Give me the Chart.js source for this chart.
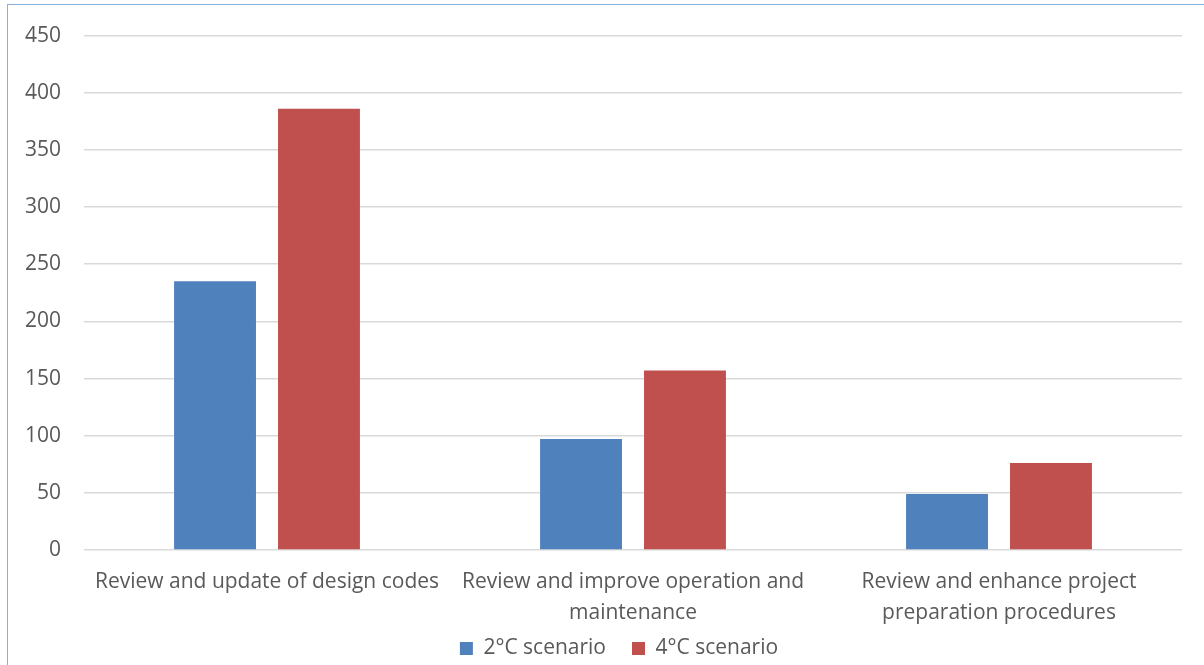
<!DOCTYPE html>
<html>
<head>
<meta charset="utf-8">
<script src="https://cdn.jsdelivr.net/npm/chart.js@4.4.1/dist/chart.umd.min.js"></script>
<style>
  html, body { margin: 0; padding: 0; background: #ffffff; }
  #wrap { position: relative; width: 1204px; height: 665px; overflow: hidden; }
  #frame { position: absolute; left: 7px; top: 4px; width: 1300px; height: 800px;
           border-top: 1.5px solid #86B0DF; border-left: 1.5px solid #86B0DF; pointer-events: none; }
  canvas { position: absolute; left: 0; top: 0; }
</style>
</head>
<body>
<div id="wrap">
  <canvas id="c" width="1204" height="665"></canvas>
  <div id="frame"></div>
</div>
<script>
const categories = [
  ["Review and update of design codes"],
  ["Review and improve operation and", "maintenance"],
  ["Review and enhance project", "preparation procedures"]
];
const seriesNames = ["2°C scenario", "4°C scenario"];
const scenario2C = [235, 97, 49];
const scenario4C = [386, 157, 76];
const yTicks = [0, 50, 100, 150, 200, 250, 300, 350, 400, 450];

const FONT = "'Open Sans', 'DejaVu Sans', sans-serif";
const TXT = "#595959";

const legendShift = {
  id: 'legendShift',
  afterLayout(chart) {
    const lg = chart.legend;
    if (!lg) return;
    const dy = 612 - lg.top;
    const dx = 28;
    lg.top += dy; lg.bottom += dy;
    lg.left += dx; lg.right += dx;
  }
};

new Chart(document.getElementById('c'), {
  type: 'bar',
  data: {
    labels: categories,
    datasets: [
      { label: seriesNames[0], data: scenario2C, backgroundColor: '#4F81BD' },
      { label: seriesNames[1], data: scenario4C, backgroundColor: '#C0504D' }
    ]
  },
  plugins: [legendShift],
  options: {
    responsive: false,
    animation: false,
    devicePixelRatio: 1,
    categoryPercentage: 0.568,
    barPercentage: 0.788,
    layout: { padding: { left: 0, right: 22, top: 34, bottom: -20 } },
    plugins: {
      tooltip: { enabled: false },
      legend: {
        position: 'bottom',
        labels: {
          boxWidth: 13, boxHeight: 13, padding: 26,
          color: TXT,
          font: { family: FONT, size: 21 }
        }
      }
    },
    scales: {
      x: {
        grid: { display: false, drawTicks: false },
        border: { display: false },
        ticks: {
          color: TXT, padding: 17, maxRotation: 0, autoSkip: false,
          font: { family: FONT, size: 21, lineHeight: 1.45 }
        },
        afterFit: (s) => { s.height = 78; }
      },
      y: {
        min: 0, max: 450,
        afterBuildTicks: (s) => { s.ticks = yTicks.map(v => ({ value: v })); },
        grid: { color: '#D9D9D9', lineWidth: 1.5, drawTicks: false },
        border: { display: false },
        ticks: {
          color: TXT, padding: 23,
          font: { family: FONT, size: 21 }
        },
        afterFit: (s) => { s.width = 84; }
      }
    }
  }
});
</script>
</body>
</html>
